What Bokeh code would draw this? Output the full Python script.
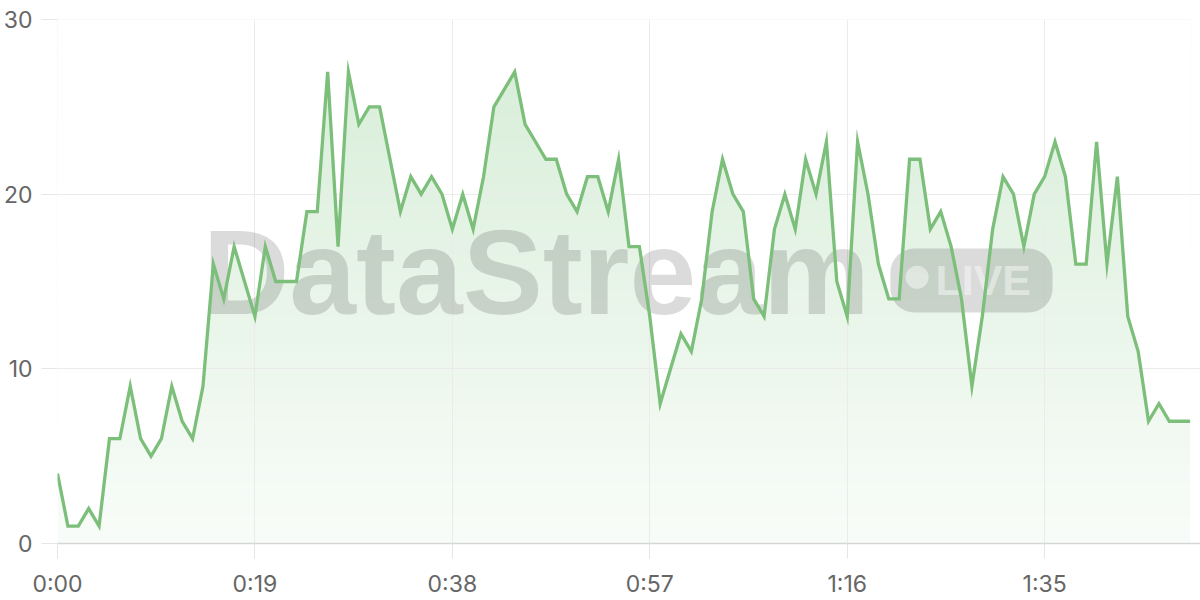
import numpy as np
from bokeh.plotting import figure
from bokeh.models import Range1d, FixedTicker
from bokeh.core.properties import value
from bokeh.embed import file_html
from bokeh.resources import INLINE

# ---- data ----
seconds = list(range(110))
viewers = [4, 1, 1, 2, 1, 6, 6, 9, 6, 5,
           6, 9, 7, 6, 9, 16, 14, 17, 15, 13,
           17, 15, 15, 15, 19, 19, 27, 17, 27, 24,
           25, 25, 22, 19, 21, 20, 21, 20, 18, 20,
           18, 21, 25, 26, 27, 24, 23, 22, 22, 20,
           19, 21, 21, 19, 22, 17, 17, 13, 8, 10,
           12, 11, 14, 19, 22, 20, 19, 14, 13, 18,
           20, 18, 22, 20, 23, 15, 13, 23, 20, 16,
           14, 14, 22, 22, 18, 19, 17, 14, 9, 13,
           18, 21, 20, 17, 20, 21, 23, 21, 16, 16,
           23, 16, 21, 13, 11, 7, 8, 7, 7, 7]
x_ticks = [0, 19, 38, 57, 76, 95]
x_tick_labels = ["0:00", "0:19", "0:38", "0:57", "1:16", "1:35"]
y_ticks = [0, 10, 20, 30]

GREEN = (129, 199, 132)
LINE_COLOR = "#7cbf7a"
Y_TOP = 30

p = figure(width=1200, height=600, output_backend="svg", toolbar_location=None,
           x_range=Range1d(0, 110.0), y_range=Range1d(0, Y_TOP),
           min_border_top=19, min_border_right=0, min_border_left=0,
           min_border_bottom=0)
p.outline_line_color = None
p.background_fill_color = "white"
p.border_fill_color = "white"

# ---- gradient area fill: opaque bands blended over white, white mask above the line ----
x0, x1 = seconds[0], seconds[-1]
n_bands = 60
edges = np.linspace(0, Y_TOP, n_bands + 1)
band_colors = []
for k in range(n_bands):
    yc = 0.5 * (edges[k] + edges[k + 1])
    a = 0.05 + 0.28 * yc / Y_TOP
    r, g, b = (round(255 - a * (255 - c)) for c in GREEN)
    band_colors.append("#%02x%02x%02x" % (r, g, b))
bands = p.quad(left=[x0] * n_bands, right=[x1] * n_bands,
               bottom=list(edges[:-1]), top=list(edges[1:] + 0.15),
               fill_color=band_colors, fill_alpha=1.0, line_color=None)
bands.level = "image"
mask = p.varea(x=seconds, y1=viewers, y2=[Y_TOP + 1] * len(seconds),
               fill_color="white", fill_alpha=1.0)
mask.level = "image"

# ---- watermark ----
def px_x(px):
    return (px - 58) / 10.38

def px_y(py):
    return (543 - py) / 17.47

p.text(x=[px_x(203)], y=[px_y(271)], text=["DataStream"],
       text_font=value("Liberation Sans"), text_font_style="bold",
       text_font_size="120px", text_color="black", text_alpha=0.14,
       text_baseline="alphabetic", text_align="left")
p.quad(left=[px_x(890)], right=[px_x(1052)], top=[px_y(248)], bottom=[px_y(312)],
       fill_color="black", fill_alpha=0.14, line_color=None, border_radius=24)
p.scatter(x=[px_x(916.7)], y=[px_y(276.7)], size=23, marker="circle",
          fill_color="white", fill_alpha=0.45, line_color=None)
p.text(x=[px_x(935)], y=[px_y(279)], text=["LIVE"],
       text_font=value("Liberation Sans"), text_font_style="bold",
       text_font_size="43px", text_color="white", text_alpha=0.45,
       text_baseline="alphabetic", text_align="left")

# ---- line ----
p.line(x=seconds, y=viewers, line_color=LINE_COLOR, line_width=3.3, line_join="miter")

# ---- axes ----
p.xaxis.ticker = FixedTicker(ticks=x_ticks)
p.xaxis.major_label_overrides = {t: lab for t, lab in zip(x_ticks, x_tick_labels)}
p.yaxis.ticker = FixedTicker(ticks=y_ticks)
for ax in (p.xaxis[0], p.yaxis[0]):
    ax.major_label_text_font = "Inter"
    ax.major_label_text_font_size = "23px"
    ax.major_label_text_color = "#666666"
    ax.minor_tick_line_color = None
    ax.major_tick_in = 0
    ax.major_tick_line_color = "#e6e6e6"
p.xaxis.major_tick_out = 15
p.xaxis.major_label_standoff = 11
p.yaxis.major_tick_out = 16
p.yaxis.major_label_standoff = 9
p.xaxis.axis_line_color = "#d6d6d6"
p.xaxis.axis_line_width = 1.5
p.yaxis.axis_line_color = None
p.grid.grid_line_color = "#ebebeb"
p.grid.grid_line_width = 1

open("out.html", "w").write(file_html(p, INLINE))
